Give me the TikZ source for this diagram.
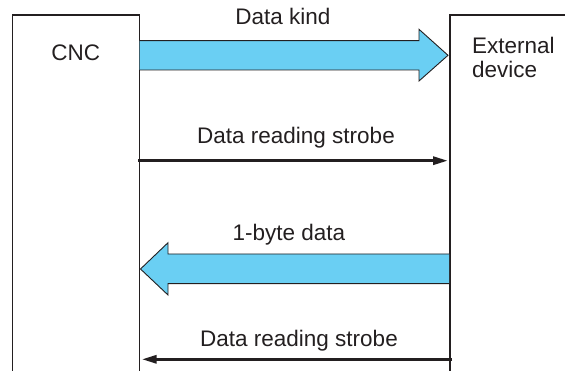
\documentclass[tikz,border=0pt]{standalone}
\usepackage{fontspec}
\setmainfont{Liberation Sans}
\usetikzlibrary{arrows.meta}
\definecolor{flow}{RGB}{106,207,243}
\definecolor{ink}{RGB}{35,31,32}
\begin{document}
\begin{tikzpicture}[x=1pt,y=-1pt,
  frame/.style={draw=ink,line width=1.3pt},
  bigarrow/.style={draw=ink,fill=flow,line width=0.9pt,line join=miter},
  strobe/.style={draw=ink,line width=3pt,-{Triangle[length=15pt,width=8pt]}},
  lbl/.style={inner sep=0pt,font=\fontsize{22.5}{26}\selectfont,text=ink}]
\useasboundingbox (0,0) rectangle (565,371);
\clip (0,0) rectangle (565,371);
% boxes
\draw[frame] (12.6,380) -- (12.6,15) -- (139.5,15) -- (139.5,380);
\draw[frame] (450,380) -- (450,15) -- (575,15);
\node[lbl] (cnc) at (75.7,52.7) {CNC};
\node[lbl,align=left,anchor=west] (ext) at (472,57) {External\\[-2pt]device};
% Data kind arrow
\coordinate (dkL) at (139.5,55.3);
\coordinate (dkR) at (448,55.3);
\path[bigarrow] (139.5,40.7) -- (419,40.7) -- (419,29.3) -- (dkR) -- (419,81) -- (419,70) -- (139.5,70);
\node[lbl] (dk) at (283,16.7) {Data kind};
% strobe 1
\coordinate (s1L) at (138,160.7);
\coordinate (s1R) at (448,160.7);
\draw[strobe] (s1L) -- (s1R);
\node[lbl] (s1) at (296,137.3) {Data reading strobe};
% 1-byte data arrow
\coordinate (bdL) at (140.5,269);
\coordinate (bdR) at (449,269);
\path[draw=none,fill=flow] (449,254) -- (168,254) -- (168,242.7) -- (bdL) -- (168,295) -- (168,283.7) -- (449,283.7) -- cycle;
\draw[bigarrow,fill=none] (449,254) -- (168,254) -- (168,242.7) -- (bdL) -- (168,295) -- (168,283.7) -- (449,283.7);
\node[lbl] (bd) at (289,234.3) {1-byte data};
% strobe 2
\coordinate (s2R) at (452,359.3);
\coordinate (s2L) at (141.7,359.3);
\draw[strobe] (s2R) -- (s2L);
\node[lbl] (s2) at (299,340.7) {Data reading strobe};
\end{tikzpicture}
\end{document}
